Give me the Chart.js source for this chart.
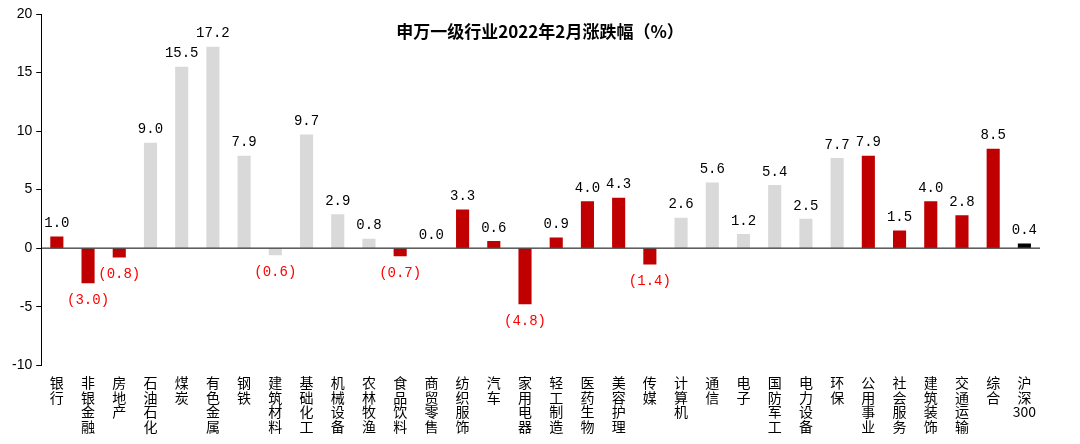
<!DOCTYPE html><html><head><meta charset="utf-8">
<script src="https://cdn.jsdelivr.net/npm/chart.js@4/dist/chart.umd.min.js"></script>
<style>html,body{margin:0;background:#fff}#w{width:1080px;height:444px}</style></head><body><div id="w"><canvas id="c"></canvas></div>
<script>
const categories=['银行','非银金融','房地产','石油石化','煤炭','有色金属','钢铁','建筑材料','基础化工','机械设备','农林牧渔','食品饮料','商贸零售','纺织服饰','汽车','家用电器','轻工制造','医药生物','美容护理','传媒','计算机','通信','电子','国防军工','电力设备','环保','公用事业','社会服务','建筑装饰','交通运输','综合','沪深300'];
const values=[1.0,-3.0,-0.8,9.0,15.5,17.2,7.9,-0.6,9.7,2.9,0.8,-0.7,0.0,3.3,0.6,-4.8,0.9,4.0,4.3,-1.4,2.6,5.6,1.2,5.4,2.5,7.7,7.9,1.5,4.0,2.8,8.5,0.4];
const groups=['r','r','r','g','g','g','g','g','g','g','g','r','r','r','r','r','r','r','r','r','g','g','g','g','g','g','r','r','r','r','r','k'];
const yTicks=[-10,-5,0,5,10,15,20];
const colMap={r:'#C00000',g:'#D9D9D9',k:'#000000'};
const F='"Noto Sans CJK SC"';
const labelsPlugin={id:'lbl',afterDatasetsDraw(ch){const c=ch.ctx,m=ch.getDatasetMeta(0),y=ch.scales.y;
c.save();c.strokeStyle='#000';c.lineWidth=1;c.beginPath();c.moveTo(ch.chartArea.left,y.getPixelForValue(0));c.lineTo(ch.chartArea.right,y.getPixelForValue(0));c.stroke();
c.font='14px "Liberation Mono"';c.textAlign='center';
m.data.forEach((b,i)=>{const v=values[i];if(v<0){c.fillStyle='#FF0000';c.textBaseline='top';c.fillText('('+Math.abs(v).toFixed(1)+')',b.x,b.y+10);}else{c.fillStyle='#000';c.textBaseline='bottom';c.fillText(v.toFixed(1),b.x,b.y-6);}});
c.fillStyle='#000';c.font='bold 17px '+F;c.textBaseline='middle';c.fillText('申万一级行业2022年2月涨跌幅（%）',540,32);c.restore();}};
new Chart(document.getElementById('c'),{type:'bar',data:{labels:categories.map(s=>s==='沪深300'?['沪','深','300']:s.split('')),datasets:[{data:values,backgroundColor:groups.map(g=>colMap[g]),barPercentage:0.42,categoryPercentage:1}]},
options:{responsive:true,maintainAspectRatio:false,animation:false,layout:{padding:{top:14,right:40,left:8,bottom:8}},plugins:{legend:{display:false},tooltip:{enabled:false}},
scales:{x:{grid:{display:false},border:{display:false},ticks:{autoSkip:false,maxRotation:0,padding:2,color:'#000',font:{family:F,size:14,lineHeight:1.05}}},
y:{min:-10,max:20,afterBuildTicks(a){a.ticks=yTicks.map(v=>({value:v}));},grid:{display:true,drawOnChartArea:false,drawTicks:true,tickLength:5,color:'#000'},border:{display:true,color:'#000'},ticks:{color:'#000',font:{family:'Liberation Sans',size:14},padding:4}}}},plugins:[labelsPlugin]});
</script></body></html>
